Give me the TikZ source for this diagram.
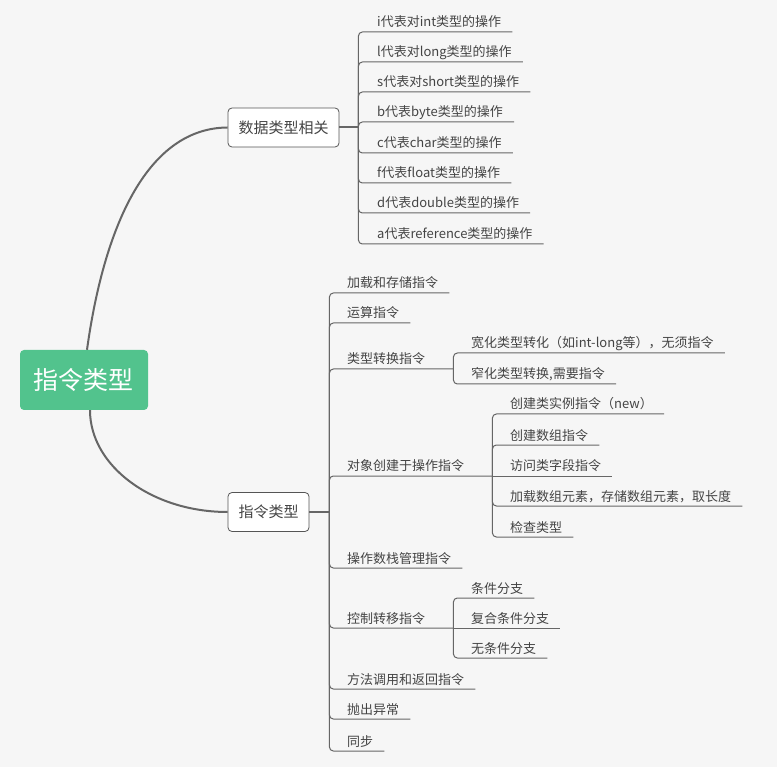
\documentclass[tikz,border=0pt]{standalone}
\usepackage{fontspec}
\setmainfont{Noto Sans CJK SC}
\usetikzlibrary{calc}
\definecolor{bgc}{RGB}{246,246,246}
\definecolor{rootc}{RGB}{82,195,141}
\definecolor{linec}{RGB}{102,102,102}
\definecolor{boxc}{RGB}{85,85,85}
\definecolor{txtc}{RGB}{68,68,68}
\tikzset{
  rootbox/.style={fill=rootc, rounded corners=4pt, minimum width=128pt, minimum height=60pt, inner sep=0pt, text=white, font=\fontsize{25}{30}\selectfont},
  topic/.style={draw=boxc, fill=white, rounded corners=4pt, line width=0.8pt, minimum height=39pt, inner sep=0pt, text=txtc, font=\fontsize{15}{18}\selectfont},
  leaf/.style={anchor=base west, inner sep=0pt, text=txtc, font=\fontsize{13}{16}\selectfont},
  trunk/.style={draw=linec, line width=2pt},
  twig/.style={draw=linec, line width=1pt, rounded corners=4pt},
}
\def\twig(#1)(#2){\draw[twig] (#1) |- ([yshift=-5pt]#2.base west) -- ([yshift=-5pt,xshift=11pt]#2.base east);}
\def\flat(#1)(#2){\draw[twig] (#1) -- ([yshift=-5pt,xshift=11pt]#2.base east);}

\begin{document}
\begin{tikzpicture}[x=1pt, y=-1pt]
	%%%%% START %%%%%
	\fill[bgc] (0,0) rectangle (777,767);
	\useasboundingbox (0,0) rectangle (777,767);

	\node[rootbox] (root) at (84,380) {指令类型};
	\node[topic, minimum width=111pt] (dtype) at (283.5,127.5) {数据类型相关};
	\node[topic, minimum width=81pt] (itype) at (268.5,512) {指令类型};

	\draw[trunk] ([xshift=3pt]root.north) .. controls (105,220) and (150,128) .. (dtype.west);
	\draw[trunk] ([xshift=6pt]root.south) .. controls (90,466) and (152,512) .. (itype.west);

	%%%%% data types %%%%%
	\coordinate (dj) at ([xshift=19pt]dtype.east);
	\draw[trunk] (dtype.east) -- (dj);

	\node[leaf] (d1) at (377,27) {i代表对int类型的操作};
	\node[leaf] (d2) at (377,57) {l代表对long类型的操作};
	\node[leaf] (d3) at (377,87) {s代表对short类型的操作};
	\node[leaf] (d4) at (377,117) {b代表byte类型的操作};
	\node[leaf] (d5) at (377,148) {c代表char类型的操作};
	\node[leaf] (d6) at (377,178) {f代表float类型的操作};
	\node[leaf] (d7) at (377,208) {d代表double类型的操作};
	\node[leaf] (d8) at (377,239) {a代表reference类型的操作};

	\twig(dj)(d1) \twig(dj)(d2) \twig(dj)(d3) \twig(dj)(d4)
	\twig(dj)(d5) \twig(dj)(d6) \twig(dj)(d7) \twig(dj)(d8)

	%%%%% instruction types %%%%%
	\coordinate (ij) at ([xshift=20pt]itype.east);
	\draw[trunk] (itype.east) -- (ij);

	\node[leaf] (i1) at (347,288) {加载和存储指令};
	\node[leaf] (i2) at (347,318) {运算指令};
	\node[leaf] (i3) at (347,364) {类型转换指令};
	\node[leaf] (i4) at (347,471) {对象创建于操作指令};
	\node[leaf] (i5) at (347,563) {操作数栈管理指令};
	\node[leaf] (i6) at (347,623) {控制转移指令};
	\node[leaf] (i7) at (347,684) {方法调用和返回指令};
	\node[leaf] (i8) at (347,714) {抛出异常};
	\node[leaf] (i9) at (347,746) {同步};

	\twig(ij)(i1) \twig(ij)(i2) \twig(ij)(i5)
	\twig(ij)(i7) \twig(ij)(i8) \twig(ij)(i9)

	\coordinate (i3j) at ([yshift=-5pt,xshift=28pt]i3.base east);
	\coordinate (i4j) at ([yshift=-5pt,xshift=28pt]i4.base east);
	\coordinate (i6j) at ([yshift=-5pt,xshift=28pt]i6.base east);
	\draw[twig] (ij) |- (i3j);
	\draw[twig] (ij) |- (i4j);
	\draw[twig] (ij) |- (i6j);

	% conversions
	\node[leaf] (c1) at (471,348) {宽化类型转化（如int-long等），无须指令};
	\node[leaf] (c2) at (471,379) {窄化类型转换,需要指令};
	\twig(i3j)(c1) \twig(i3j)(c2)

	% objects
	\node[leaf] (o1) at (510,409) {创建类实例指令（new）};
	\node[leaf] (o2) at (510,440) {创建数组指令};
	\node[leaf] (o3) at (510,471) {访问类字段指令};
	\node[leaf] (o4) at (510,501) {加载数组元素，存储数组元素，取长度};
	\node[leaf] (o5) at (510,532) {检查类型};
	\twig(i4j)(o1) \twig(i4j)(o2) \flat(i4j)(o3)
	\twig(i4j)(o4) \twig(i4j)(o5)

	% control flow
	\node[leaf] (k1) at (471,593) {条件分支};
	\node[leaf] (k2) at (471,623) {复合条件分支};
	\node[leaf] (k3) at (471,653) {无条件分支};
	\twig(i6j)(k1) \flat(i6j)(k2) \twig(i6j)(k3)
	%%%%% END %%%%%
\end{tikzpicture}
\end{document}
